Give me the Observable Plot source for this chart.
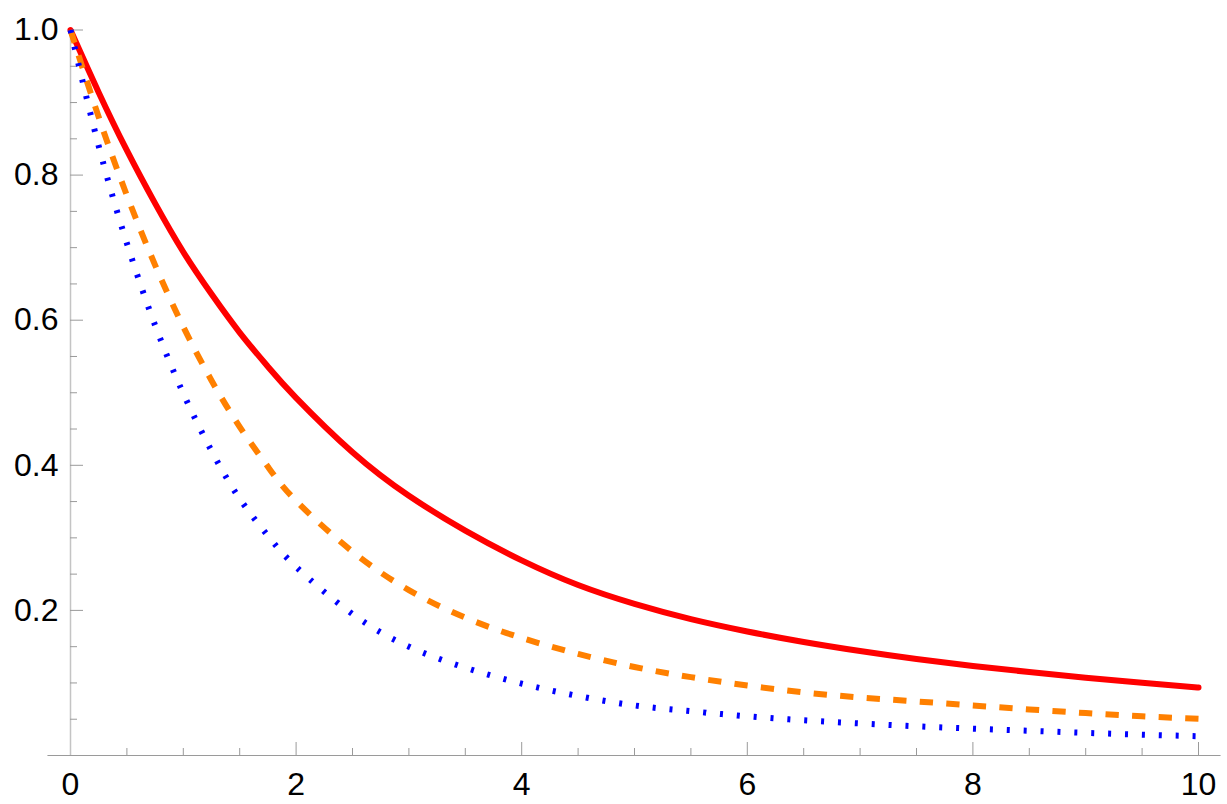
<!DOCTYPE html>
<html>
<head>
<meta charset="utf-8">
<script src="https://cdn.jsdelivr.net/npm/d3@7"></script>
<script src="https://cdn.jsdelivr.net/npm/@observablehq/plot@0.6"></script>
<style>
  html, body { margin: 0; padding: 0; background: #fff; }
  svg { display: block; }
</style>
</head>
<body>
<div id="chart"></div>
<script>
// ---- data ----
const xs = [0, 0.25, 0.5, 0.75, 1, 1.25, 1.5, 1.75, 2, 2.5, 3, 3.5, 4, 4.5, 5, 5.5, 6, 6.5, 7, 7.5, 8, 8.5, 9, 9.5, 10];
const redSeries = [1.0, 0.914, 0.834, 0.761, 0.694, 0.636, 0.583, 0.536, 0.493, 0.418, 0.358, 0.310, 0.269, 0.235, 0.209, 0.188, 0.171, 0.1565, 0.144, 0.133, 0.1235, 0.115, 0.1073, 0.1002, 0.0936];
const orangeSeries = [1.0, 0.880, 0.772, 0.676, 0.591, 0.517, 0.453, 0.398, 0.351, 0.281, 0.228, 0.190, 0.162, 0.140, 0.122, 0.108, 0.0965, 0.087, 0.080, 0.0745, 0.069, 0.0635, 0.0585, 0.054, 0.0506];
const blueSeries = [1.0, 0.840, 0.706, 0.593, 0.499, 0.420, 0.354, 0.303, 0.260, 0.195, 0.150, 0.121, 0.099, 0.082, 0.069, 0.061, 0.054, 0.0485, 0.0442, 0.0403, 0.0370, 0.0340, 0.0312, 0.0287, 0.0266];
const xTickLabels = [0, 2, 4, 6, 8, 10];
const yTickLabels = [0.2, 0.4, 0.6, 0.8, 1.0];
const xMinorStep = 0.5;
const yMinorStep = 0.05;

// ---- layout ----
const W = 1227, H = 804;
const mL = 70, mR = 29, mT = 29.5, mB = 49;
const plotH = H - mT - mB;
const plotW = W - mL - mR;

const xMinor = d3.range(0, 10 + 1e-9, xMinorStep).filter(v => v > 0 && !xTickLabels.some(t => Math.abs(t - v) < 1e-9));
const yMinor = d3.range(yMinorStep, 1 + 1e-9, yMinorStep).filter(v => !yTickLabels.some(t => Math.abs(t - v) < 1e-9));

const mk = arr => xs.map((x, i) => ({x, y: arr[i]}));

const chart = Plot.plot({
  width: W, height: H,
  marginLeft: mL, marginRight: mR, marginTop: mT, marginBottom: mB,
  style: {fontFamily: "'Liberation Sans', Arial, sans-serif", fontSize: "32px", color: "#000", background: "#fff", overflow: "visible"},
  x: {domain: [0, 10]},
  y: {domain: [0, 1]},
  marks: [
    // axis lines
    Plot.ruleX([0], {stroke: "#c4c4c4", strokeWidth: 1.5}),
    Plot.ruleY([0], {x1: -0.2, x2: 10.2, stroke: "#9a9a9a", strokeWidth: 1.2}),
    // x ticks (inward, upward from axis)
    Plot.ruleX(xMinor, {x: d => d, insetTop: plotH - 7, stroke: "#9a9a9a", strokeWidth: 1}),
    Plot.ruleX(xTickLabels.filter(d => d !== 0), {x: d => d, insetTop: plotH - 13, stroke: "#9a9a9a", strokeWidth: 1}),
    // y ticks (inward, rightward from axis)
    Plot.ruleY(yMinor, {y: d => d, x1: 0, x2: 10, insetRight: plotW - 7, stroke: "#9a9a9a", strokeWidth: 1}),
    Plot.ruleY(yTickLabels, {y: d => d, x1: 0, x2: 10, insetRight: plotW - 13, stroke: "#9a9a9a", strokeWidth: 1}),
    // tick labels
    Plot.axisX(xTickLabels, {tickSize: 0, tickPadding: 17, label: null, tickFormat: d => String(d), fontSize: 32}),
    Plot.axisY(yTickLabels, {tickSize: 0, tickPadding: 12, label: null, tickFormat: d3.format(".1f"), fontSize: 32}),
    // curves
    Plot.line(mk(redSeries), {x: "x", y: "y", stroke: "#ff0000", strokeWidth: 6, curve: "natural"}),
    Plot.line(mk(orangeSeries), {x: "x", y: "y", stroke: "#ff8000", strokeWidth: 6, strokeDasharray: "13.3,13.3", strokeLinecap: "butt", curve: "natural"}),
    Plot.line(mk(blueSeries), {x: "x", y: "y", stroke: "#0000ff", strokeWidth: 6, strokeDasharray: "3,13.9", strokeLinecap: "butt", curve: "natural"})
  ]
});
document.getElementById("chart").appendChild(chart);
</script>
</body>
</html>
